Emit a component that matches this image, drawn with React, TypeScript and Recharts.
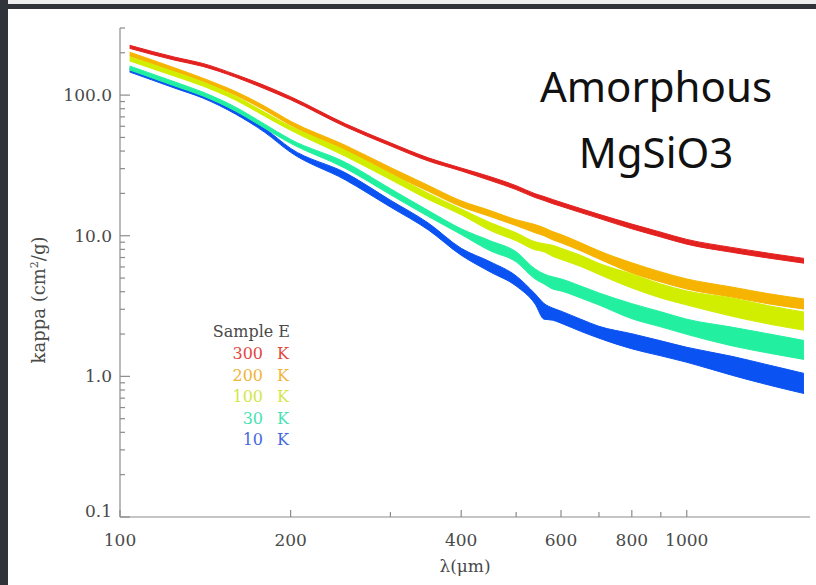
import React from 'react';
import { ComposedChart, Area, XAxis, YAxis } from 'recharts';

// wavelength grid (micron)
const wavelengths = [104, 125, 140, 160, 180, 200, 250, 300, 350, 400, 450, 500, 540, 560, 580, 600, 650, 700, 800, 900, 1000, 1200, 1400, 1610];

// 300 K
const k300Hi = [226, 186, 168, 140, 117, 97.4, 62.5, 45.8, 35.8, 30.3, 26.3, 22.7, 19.9, 19.0, 18.1, 17.3, 15.6, 14.2, 12.1, 10.6, 9.42, 8.26, 7.49, 6.9];
const k300Lo = [215, 177, 160, 134, 111, 92.7, 59.5, 43.6, 34.0, 28.9, 24.7, 21.3, 18.7, 17.8, 16.9, 16.2, 14.6, 13.3, 11.2, 9.8, 8.71, 7.63, 6.92, 6.38];
// 200 K
const k200Hi = [202, 156, 132, 106, 83.4, 65.2, 43.9, 30.6, 22.8, 17.7, 15.1, 13.0, 12.0, 11.4, 10.7, 10.2, 8.91, 7.81, 6.42, 5.53, 4.93, 4.32, 3.86, 3.55];
const k200Lo = [190, 146, 124, 99.7, 78.1, 61.1, 39.8, 27.7, 20.7, 16.1, 13.7, 11.8, 10.5, 10.0, 9.36, 8.91, 7.81, 6.84, 5.44, 4.69, 4.18, 3.66, 3.27, 3.01];
// 100 K
const k100Hi = [187, 146, 124, 98.1, 75.5, 60.0, 40.4, 27.7, 20.0, 15.5, 12.4, 10.5, 9.06, 8.77, 8.55, 8.15, 7.26, 6.36, 5.35, 4.54, 4.05, 3.61, 3.17, 2.87];
const k100Lo = [175, 136, 116, 92.0, 70.8, 56.2, 36.7, 25.1, 18.1, 14.1, 10.9, 9.21, 7.94, 7.69, 7.13, 6.79, 6.05, 5.31, 4.25, 3.61, 3.22, 2.68, 2.35, 2.13];
// 30 K
const k30Hi = [161, 124, 105, 82.0, 62.1, 48.4, 33.2, 21.6, 15.1, 11.2, 9.21, 7.69, 5.81, 5.35, 5.10, 4.93, 4.39, 3.92, 3.29, 2.88, 2.55, 2.24, 2.0, 1.80];
const k30Lo = [151, 116, 98.7, 76.9, 58.2, 45.4, 30.1, 19.6, 13.7, 10.2, 7.81, 6.52, 4.93, 4.54, 4.18, 4.05, 3.61, 3.22, 2.57, 2.25, 1.99, 1.65, 1.46, 1.32];
// 10 K
const k10Hi = [156, 120, 102, 78.1, 58.1, 41.8, 28.0, 17.9, 12.3, 8.14, 6.53, 5.18, 3.86, 3.3, 3.06, 2.91, 2.55, 2.27, 2.01, 1.79, 1.61, 1.39, 1.20, 1.05];
const k10Lo = [146, 112, 95.3, 73.2, 54.4, 39.2, 24.9, 16.0, 11.0, 7.26, 5.53, 4.39, 3.27, 2.55, 2.51, 2.39, 2.09, 1.87, 1.57, 1.40, 1.26, 1.02, 0.865, 0.755];

const xTicks = [100, 200, 300, 400, 500, 600, 700, 800, 900, 1000];
const xLabeled = [100, 200, 400, 600, 800, 1000];
const yTicks = [0.1, 0.2, 0.3, 0.4, 0.5, 0.6, 0.7, 0.8, 0.9, 1, 2, 3, 4, 5, 6, 7, 8, 9, 10, 20, 30, 40, 50, 60, 70, 80, 90, 100, 200, 300];
const yLabels: Record<string, string> = { '0.1': '0.1', '1': '1.0', '10': '10.0', '100': '100.0' };

const legendTemps = ['300', '200', '100', '30', '10'];
const seriesKeys = ['k300', 'k200', 'k100', 'k30', 'k10'];
const colors = ['#e3211f', '#f6b400', '#d2ee00', '#22f0a0', '#0b52f2'];
const legendColors = ['#e2473f', '#efb43a', '#d3e64a', '#48e2b4', '#4468e0'];

const data = wavelengths.map((w, i) => ({
  lambda: w,
  k300: [k300Lo[i], k300Hi[i]],
  k200: [k200Lo[i], k200Hi[i]],
  k100: [k100Lo[i], k100Hi[i]],
  k30: [k30Lo[i], k30Hi[i]],
  k10: [k10Lo[i], k10Hi[i]],
}));

const FONT = '"DejaVu Serif", serif';
const AXIS = '#8c8c8c';
const LBL = '#4a4a4a';
const XM = 10;
const YM = 8;

const BottomTick = (p: any) => {
  const v = p.payload.value;
  const lab = xLabeled.includes(v);
  const ay = p.y - XM;
  return (
    <g>
      <line x1={p.x} x2={p.x} y1={ay} y2={ay - (lab ? 7 : 5)} stroke={AXIS} strokeWidth={1.2} />
      {lab && (
        <text x={p.x} y={ay + 29} textAnchor="middle" fontFamily={FONT} fontSize={17} fill={LBL}>{v}</text>
      )}
    </g>
  );
};

const TopTick = (p: any) => {
  const v = p.payload.value;
  const lab = xLabeled.includes(v);
  return <line x1={p.x} x2={p.x} y1={p.y} y2={p.y + (lab ? 7 : 5)} stroke={AXIS} strokeWidth={1.2} />;
};

const LeftTick = (p: any) => {
  const v = p.payload.value;
  const lab = yLabels[String(v)];
  const ax = p.x + YM;
  return (
    <g>
      <line x1={ax} x2={ax + (lab ? 10 : 5)} y1={p.y} y2={p.y} stroke={AXIS} strokeWidth={1.2} />
      {lab && (
        <text x={p.x} y={p.y + (v === 0.1 ? 0 : 6)} textAnchor="end" fontFamily={FONT} fontSize={17} fill={LBL}>{lab}</text>
      )}
    </g>
  );
};

const RightTick = (p: any) => {
  const v = p.payload.value;
  const lab = yLabels[String(v)];
  return <line x1={p.x} x2={p.x - (lab ? 10 : 5)} y1={p.y} y2={p.y} stroke={AXIS} strokeWidth={1.2} />;
};

export default function App() {
  return (
    <div style={{ position: 'absolute', left: 0, top: 0, width: 816, height: 585, background: '#30333a', overflow: 'hidden' }}>
      <div style={{ position: 'absolute', left: 8, top: 0, width: 808, height: 4, background: '#ededed' }} />
      <div style={{ position: 'absolute', left: 8, top: 9, width: 808, height: 576, background: '#ffffff' }} />
      <div style={{ position: 'absolute', left: 0, top: 0 }}>
        <ComposedChart width={816} height={585} data={data} margin={{ top: 28, right: 6, bottom: 28, left: 50 }}>
          <XAxis xAxisId="b" dataKey="lambda" type="number" scale="log" domain={[100, 1650]} allowDataOverflow
            ticks={xTicks} interval={0} tickSize={0} tickMargin={XM} height={40}
            axisLine={{ stroke: AXIS, strokeWidth: 1.2 }} tickLine={false} tick={<BottomTick />} />
          <XAxis xAxisId="t" orientation="top" dataKey="lambda" type="number" scale="log" domain={[100, 1650]} allowDataOverflow
            ticks={xTicks} interval={0} tickSize={0} tickMargin={0} height={0}
            axisLine={{ stroke: AXIS, strokeWidth: 1.2 }} tickLine={false} tick={<TopTick />} />
          <YAxis yAxisId="l" type="number" scale="log" domain={[0.1, 300]} allowDataOverflow
            ticks={yTicks} interval={0} tickSize={0} tickMargin={YM} width={70}
            axisLine={{ stroke: AXIS, strokeWidth: 1.2 }} tickLine={false} tick={<LeftTick />} />
          <YAxis yAxisId="r" orientation="right" type="number" scale="log" domain={[0.1, 300]} allowDataOverflow
            ticks={yTicks} interval={0} tickSize={0} tickMargin={0} width={0}
            axisLine={{ stroke: AXIS, strokeWidth: 1.2 }} tickLine={false} tick={<RightTick />} />
          {[0, 1, 2, 4, 3].map((i) => (
            <Area key={seriesKeys[i]} xAxisId="b" yAxisId="l" type="monotone" dataKey={seriesKeys[i]}
              stroke={colors[i]} strokeWidth={1} fill={colors[i]} fillOpacity={1}
              dot={false} activeDot={false} isAnimationActive={false} />
          ))}
        </ComposedChart>
      </div>
      <svg width={816} height={585} style={{ position: 'absolute', left: 0, top: 0, pointerEvents: 'none' }}>
        <text x={656} y={102} textAnchor="middle" fontFamily='"Noto Sans", sans-serif' fontSize={42} fill="#111">Amorphous</text>
        <text x={656} y={168} textAnchor="middle" fontFamily='"Noto Sans", sans-serif' fontSize={42} fill="#111">MgSiO3</text>
        <text transform="translate(45,300) rotate(-90)" textAnchor="middle" fontFamily={FONT} fontSize={18} fill={LBL}>
          kappa (cm<tspan dy={-7} fontSize={11}>2</tspan><tspan dy={7}>/g)</tspan>
        </text>
        <text x={465} y={572} textAnchor="middle" fontFamily={FONT} fontSize={17} fill={LBL}>λ(μm)</text>
        <text x={290} y={337} textAnchor="end" fontFamily={FONT} fontSize={16} fill={LBL}>Sample E</text>
        {legendTemps.map((t, i) => (
          <g key={t}>
            <text x={263} y={359 + i * 21.5} textAnchor="end" fontFamily={FONT} fontSize={16} fill={legendColors[i]}>{t}</text>
            <text x={277} y={359 + i * 21.5} textAnchor="start" fontFamily={FONT} fontSize={16} fill={legendColors[i]}>K</text>
          </g>
        ))}
      </svg>
    </div>
  );
}
